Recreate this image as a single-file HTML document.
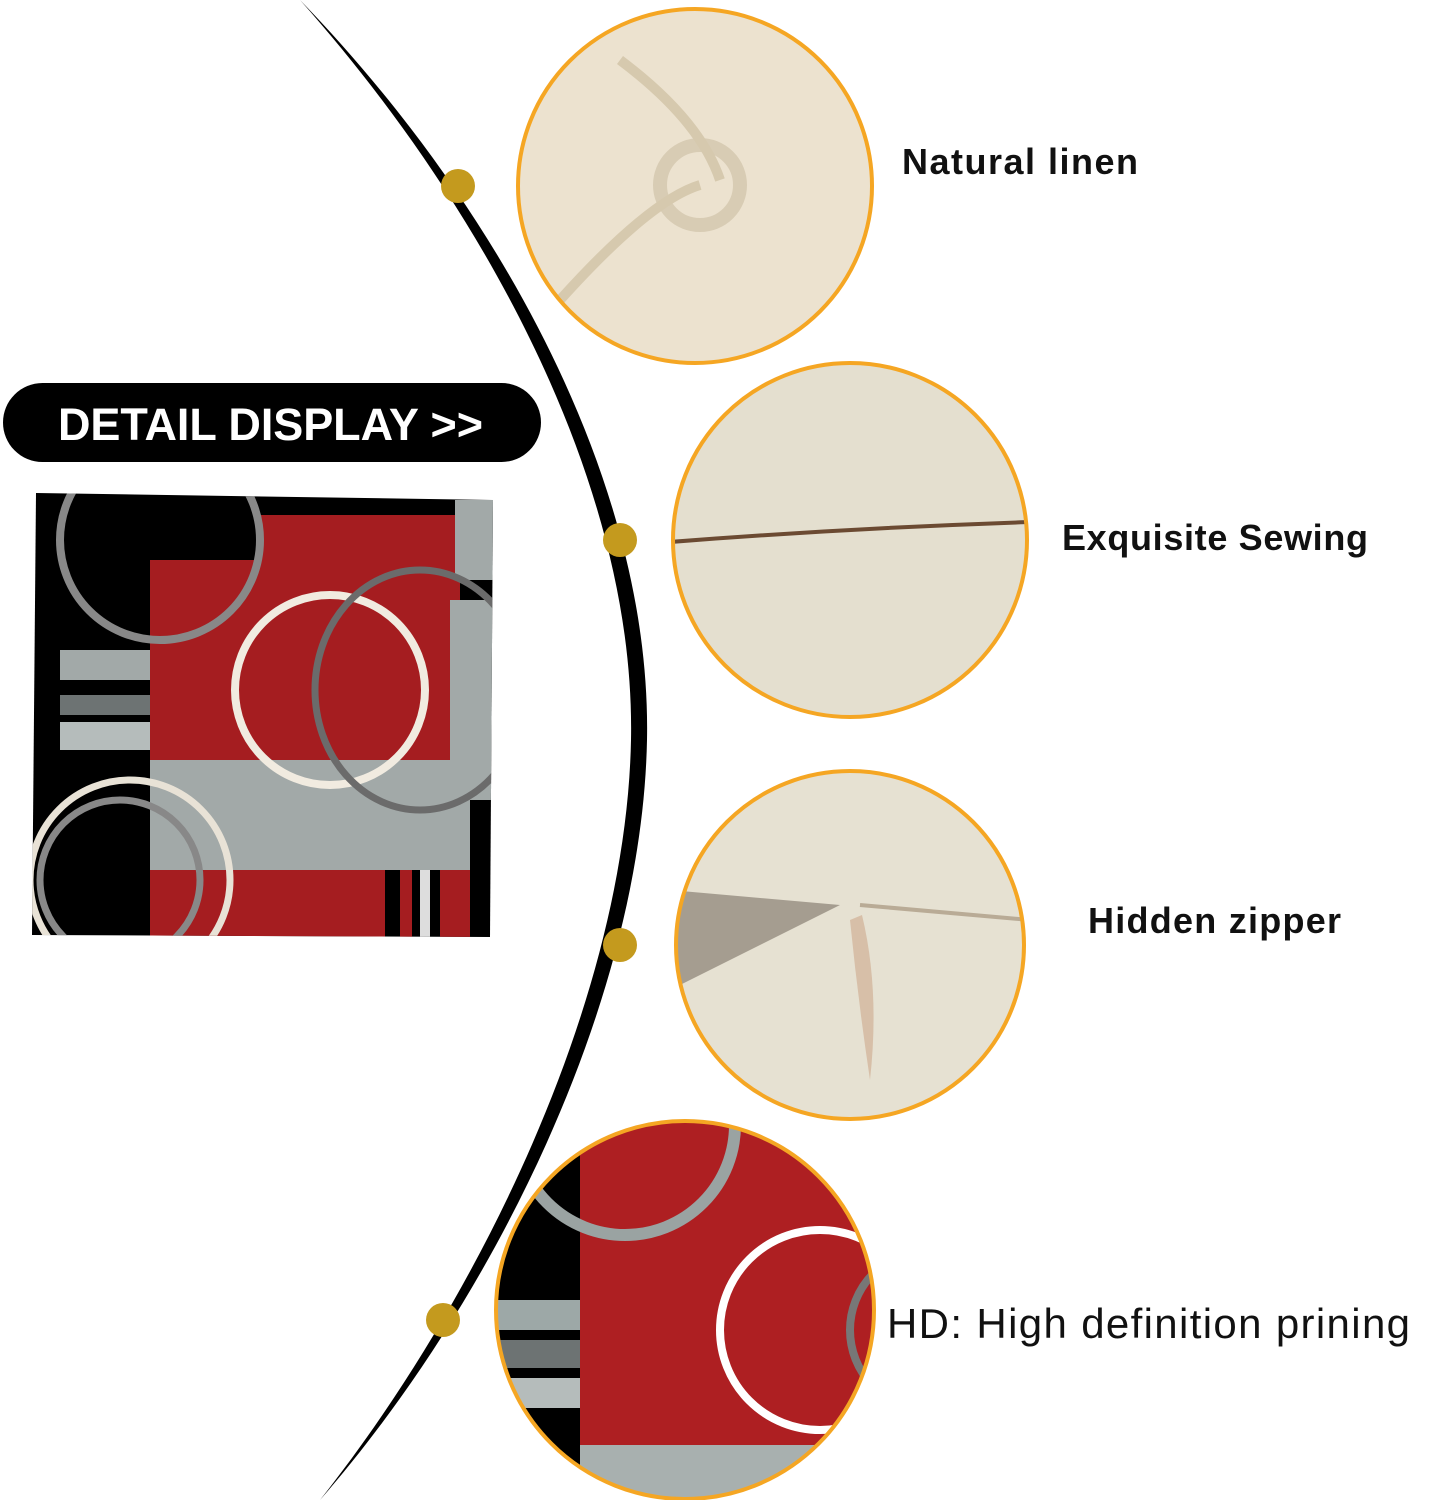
<!DOCTYPE html>
<html><head><style>
html,body{margin:0;padding:0;background:#fff;}
svg{display:block}
text{font-family:"Liberation Sans",sans-serif;}
</style></head><body>
<svg width="1432" height="1500" viewBox="0 0 1432 1500" xmlns="http://www.w3.org/2000/svg">
<defs>
<clipPath id="c1"><circle cx="695" cy="186" r="176"/></clipPath>
<clipPath id="c2"><circle cx="850" cy="540" r="176"/></clipPath>
<clipPath id="c3"><circle cx="850" cy="945" r="173"/></clipPath>
<clipPath id="c4"><circle cx="685" cy="1310" r="188"/></clipPath>
<clipPath id="pc"><path d="M36,493 L493,500 L490,937 L32,935 Z"/></clipPath>
</defs>
<!-- arc -->
<path d="M300,0 C494,200 652,480 647,740 C642,1000 494,1300 320,1500 C478,1300 626,1000 631,740 C636,480 478,200 300,0 Z" fill="#000"/>
<!-- dots -->
<g fill="#c49a1e"><circle cx="458" cy="186" r="17"/><circle cx="620" cy="540" r="17"/><circle cx="620" cy="945" r="17"/><circle cx="443" cy="1320" r="17"/></g>
<!-- circle 1 -->
<g clip-path="url(#c1)"><rect x="510" y="0" width="380" height="370" fill="#ece2cf"/>
<circle cx="700" cy="185" r="40" fill="none" stroke="#d8ccb4" stroke-width="14"/>
<path d="M560,300 Q650,200 700,185 M620,60 Q700,120 720,180" stroke="#d6c9ae" stroke-width="10" fill="none"/></g>
<circle cx="695" cy="186" r="177" fill="none" stroke="#f5a623" stroke-width="4"/>
<!-- circle 2 -->
<g clip-path="url(#c2)"><rect x="670" y="360" width="360" height="360" fill="#e4dfcf"/>
<path d="M670,542 Q850,528 1030,522" stroke="#6b4a32" stroke-width="4" fill="none"/></g>
<circle cx="850" cy="540" r="177" fill="none" stroke="#f5a623" stroke-width="4"/>
<!-- circle 3 -->
<g clip-path="url(#c3)"><rect x="670" y="770" width="360" height="360" fill="#e6e1d2"/>
<path d="M670,890 L840,905 L670,990 Z" fill="#a59d90"/>
<path d="M860,905 L1030,920" stroke="#b9ab96" stroke-width="4"/>
<path d="M862,915 Q880,990 870,1080 Q858,1000 850,920 Z" fill="#d7bfa8"/></g>
<circle cx="850" cy="945" r="174" fill="none" stroke="#f5a623" stroke-width="4"/>
<!-- circle 4 -->
<g clip-path="url(#c4)"><rect x="490" y="1115" width="390" height="390" fill="#ae1f22"/>
<rect x="490" y="1115" width="90" height="390" fill="#000"/>
<rect x="495" y="1300" width="85" height="30" fill="#9da8a7"/>
<rect x="495" y="1340" width="85" height="28" fill="#6d7373"/>
<rect x="495" y="1378" width="85" height="30" fill="#b5bcbb"/>
<rect x="580" y="1445" width="300" height="60" fill="#a8b0af"/>
<circle cx="625" cy="1125" r="110" fill="none" stroke="#9aa3a2" stroke-width="12"/>
<circle cx="820" cy="1330" r="100" fill="none" stroke="#fff" stroke-width="8"/>
<circle cx="930" cy="1330" r="80" fill="none" stroke="#777" stroke-width="8"/></g>
<circle cx="685" cy="1310" r="189" fill="none" stroke="#f5a623" stroke-width="4"/>
<!-- pill -->
<rect x="3" y="383" width="538" height="79" rx="39.5" fill="#000"/>
<text x="58" y="440" fill="#fff" font-size="45" font-weight="bold" textLength="425">DETAIL DISPLAY &gt;&gt;</text>
<!-- pillow -->
<g clip-path="url(#pc)"><rect x="30" y="490" width="470" height="450" fill="#000"/>
<rect x="150" y="560" width="310" height="200" fill="#a51d20"/>
<rect x="258" y="515" width="200" height="50" fill="#a51d20"/>
<rect x="150" y="760" width="320" height="110" fill="#a2a9a8"/>
<rect x="150" y="870" width="235" height="70" fill="#a51d20"/>
<rect x="455" y="500" width="40" height="80" fill="#a2a9a8"/>
<rect x="450" y="600" width="45" height="200" fill="#a2a9a8"/>
<rect x="60" y="650" width="90" height="30" fill="#a2a9a8"/>
<rect x="60" y="695" width="90" height="20" fill="#6d7373"/>
<rect x="60" y="722" width="90" height="28" fill="#b5bcbb"/>
<rect x="400" y="870" width="12" height="70" fill="#a51d20"/>
<rect x="420" y="870" width="10" height="70" fill="#ddd"/>
<rect x="440" y="870" width="30" height="70" fill="#a51d20"/>
<circle cx="160" cy="540" r="100" fill="none" stroke="#888" stroke-width="8"/>
<circle cx="330" cy="690" r="95" fill="none" stroke="#f1ebe0" stroke-width="8"/>
<ellipse cx="420" cy="690" rx="105" ry="120" fill="none" stroke="#6b6b6b" stroke-width="7"/>
<circle cx="130" cy="880" r="100" fill="none" stroke="#e8e2d6" stroke-width="7"/>
<circle cx="120" cy="880" r="80" fill="none" stroke="#888" stroke-width="7"/></g>
<!-- labels -->
<text x="902" y="174" font-size="36" font-weight="bold" fill="#111" textLength="236">Natural linen</text>
<text x="1062" y="550" font-size="36" font-weight="bold" fill="#111" textLength="306">Exquisite Sewing</text>
<text x="1088" y="933" font-size="36" font-weight="bold" fill="#111" textLength="253">Hidden zipper</text>
<text x="887" y="1338" font-size="42" fill="#111" textLength="523">HD: High definition prining</text>
</svg>
</body></html>
